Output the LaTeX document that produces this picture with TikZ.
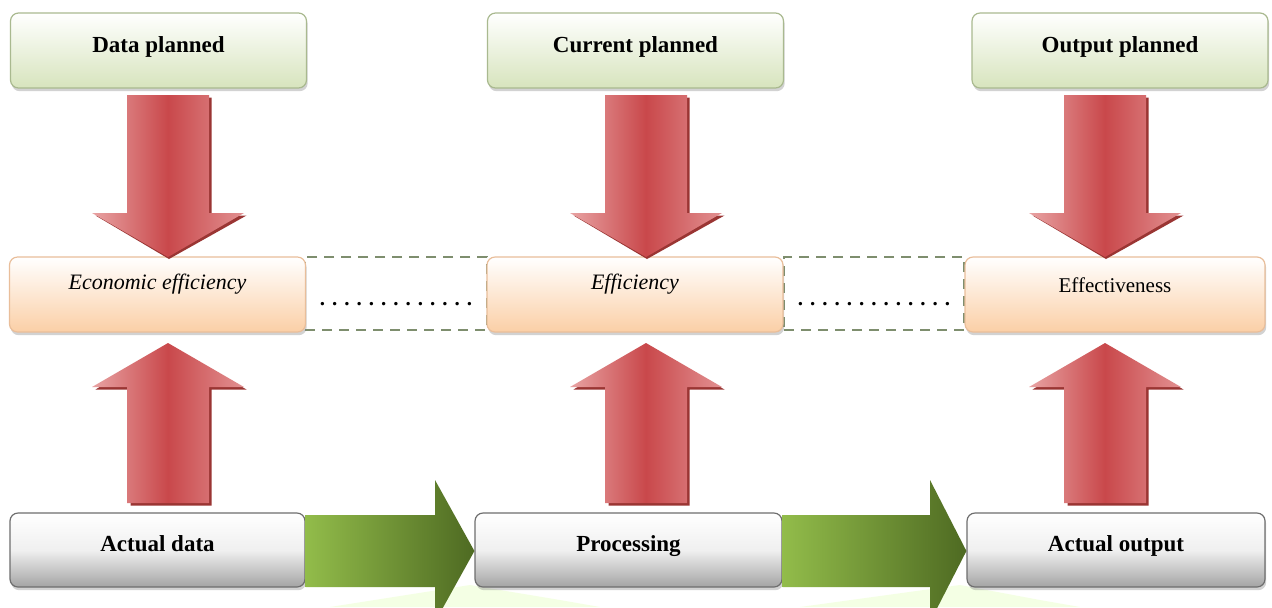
\documentclass[tikz,border=0pt]{standalone}
\usepackage{fontspec}
\setmainfont{Liberation Serif}
\usetikzlibrary{shadows,calc}
\definecolor{grnA}{HTML}{D7E4BD}
\definecolor{grnB}{HTML}{A9B98F}
\definecolor{pchA}{HTML}{FBCFA6}
\definecolor{pchB}{HTML}{E9BE9A}
\definecolor{gryA}{HTML}{A4A4A4}
\definecolor{gryB}{HTML}{6E6E6E}
\definecolor{redA}{HTML}{C9484B}
\definecolor{redB}{HTML}{E8A3A3}
\definecolor{redC}{HTML}{9A3533}
\definecolor{gA}{HTML}{92BC4A}
\definecolor{gB}{HTML}{4E6A22}
\definecolor{dashc}{HTML}{7E8E6E}
\tikzset{
  basebox/.style={rounded corners=4pt, line width=0.6pt,
    drop shadow={shadow xshift=0.6pt, shadow yshift=-1.6pt, opacity=0.35}},
  planbox/.style={basebox, draw=grnB, top color=white, bottom color=grnA,
    minimum width=148pt, minimum height=37.5pt},
  effbox/.style={basebox, draw=pchB, top color=white, bottom color=pchA,
    minimum width=148pt, minimum height=37.5pt},
  actbox/.style={basebox, draw=gryB, top color=white, bottom color=gryA, middle color=gray!12,
    minimum height=37pt},
  gapbox/.style={draw=dashc, dash pattern=on 5pt off 3.5pt, line width=0.6pt, fill=white,
    minimum height=36.5pt},
  lbl/.style={text height=1.6ex, text depth=0.4ex, inner sep=1pt},
  bl/.style={lbl, font=\fontsize{11.5}{13}\selectfont\bfseries},
  il/.style={lbl, font=\fontsize{11}{13}\selectfont\itshape},
  rl/.style={lbl, font=\fontsize{10.5}{13}\selectfont},
  redarrow/.style={left color=redB, right color=redB!80!redA, middle color=redA, draw=none},
  redshadow/.style={fill=redC, draw=none},
  grnarrow/.style={shading=axis, shading angle=-70, left color=gA, right color=gB, draw=none}
}
% #1 centre x, #2 shaft end, #3 head base, #4 tip
\newcommand{\redblock}[4]{%
  \fill[redshadow] ($(#1-40,#2)+(2.5,2.5)$) -- ($(#1+41,#2)+(2.5,2.5)$) -- ($(#1+41,#3)+(2.5,2.5)$) -- ($(#1+76,#3)+(2.5,2.5)$) -- ($(#1,#4)+(1,2)$) -- ($(#1-75,#3)+(2.5,2.5)$) -- ($(#1-40,#3)+(2.5,2.5)$) -- cycle;
  \path[redarrow] (#1-41,#2) -- (#1+41,#2) -- (#1+41,#3) -- (#1+76,#3) -- (#1,#4) -- (#1-76,#3) -- (#1-41,#3) -- cycle;}
\begin{document}
\begin{tikzpicture}[x=0.5pt,y=-0.5pt]
\useasboundingbox[fill=white] (0,0) rectangle (1272,607);
% faint reflections
\fill[green!40!yellow!15!white, opacity=0.7] (330,607) -- (470,585) -- (560,600) -- (600,607) -- cycle;
\fill[green!40!yellow!15!white, opacity=0.7] (800,607) -- (960,585) -- (1040,600) -- (1080,607) -- cycle;

% top row
\node[planbox] (dp) at (158.5,50.5) {};
\node[planbox] (cp) at (635.5,50.5) {};
\node[planbox] (op) at (1120,50.5) {};
\node[bl] (dpt) at ($(dp.center)+(0,-4)$) {Data planned};
\node[bl] (cpt) at ($(cp.center)+(0,-4)$) {Current planned};
\node[bl] (opt) at ($(op.center)+(0,-4)$) {Output planned};

% middle row
\node[gapbox, minimum width=91pt] (g1) at (396,293.5) {};
\node[gapbox, minimum width=90pt] (g2) at (874,293.5) {};
\node[effbox] (ee) at (157.5,294.5) {};
\node[effbox] (ef) at (635,294.5) {};
\node[effbox, minimum width=150pt] (ev) at (1115,294.5) {};
\node[il] (eet) at ($(ee.center)+(0,-11)$) {Economic efficiency};
\node[il] (eft) at ($(ef.center)+(0,-11)$) {Efficiency};
\node[rl] (evt) at ($(ev.center)+(0,-8)$) {Effectiveness};
\node[rl, font=\fontsize{10.5}{13}\selectfont\bfseries] (g1t) at ($(g1.center)+(0,6)$) {. . . . . . . . . . . . .};
\node[rl, font=\fontsize{10.5}{13}\selectfont\bfseries] (g2t) at ($(g2.center)+(0,6)$) {. . . . . . . . . . . . .};

% bottom row
\node[actbox, minimum width=147.5pt] (ad) at (157.5,550) {};
\node[actbox, minimum width=153.5pt] (pr) at (628.5,550) {};
\node[actbox, minimum width=149pt] (ao) at (1116,550) {};
\node[bl] (adt) at ($(ad.center)+(0,-4)$) {Actual data};
\node[bl] (prt) at ($(pr.center)+(0,-4)$) {Processing};
\node[bl] (aot) at ($(ao.center)+(0,-4)$) {Actual output};

% green arrows
\path[grnarrow] (ad.east |- 0,515) -- (435,515) -- (435,480) -- (pr.west |- 0,551) -- (435,622) -- (435,587) -- (ad.east |- 0,587) -- cycle;
\path[grnarrow] (pr.east |- 0,515) -- (930,515) -- (930,480) -- (ao.west |- 0,551) -- (930,622) -- (930,587) -- (pr.east |- 0,587) -- cycle;

% red arrows
\redblock{168}{95}{213}{257}
\redblock{646}{95}{213}{257}
\redblock{1105}{95}{213}{257}
\redblock{168}{503}{387}{343}
\redblock{646}{503}{387}{343}
\redblock{1105}{503}{387}{343}
\end{tikzpicture}
\end{document}
